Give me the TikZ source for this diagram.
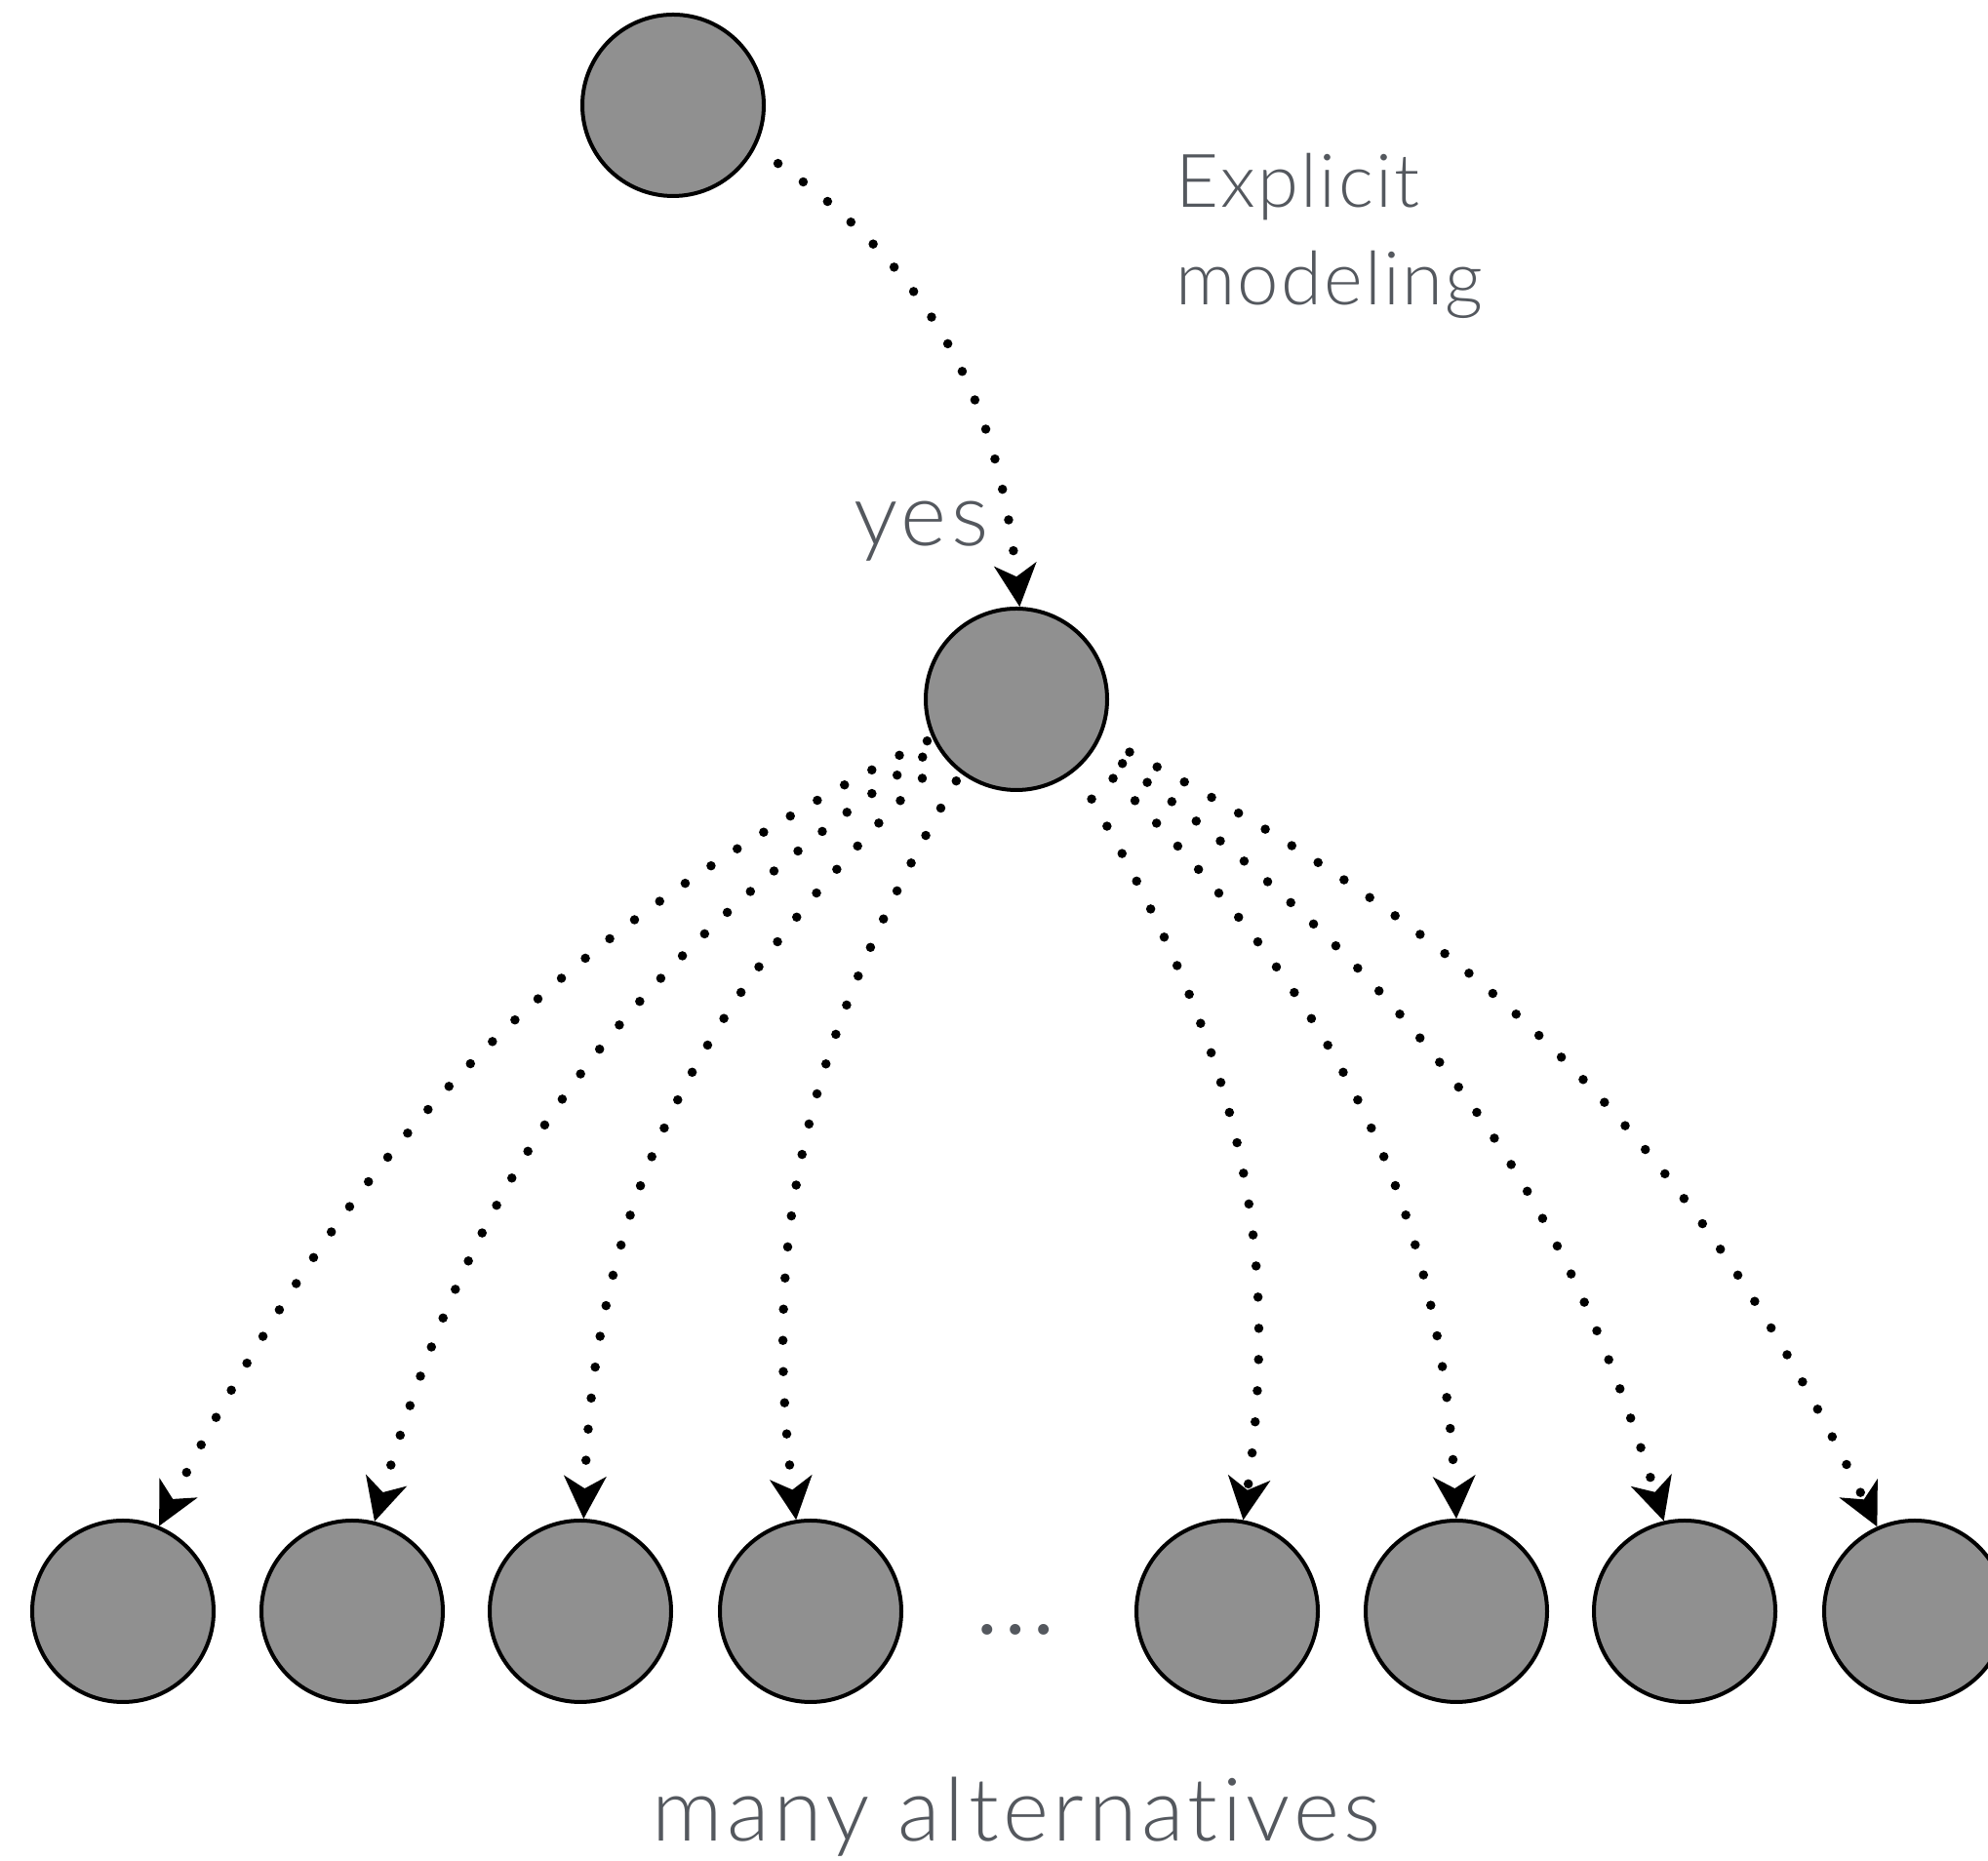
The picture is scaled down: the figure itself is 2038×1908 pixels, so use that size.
\documentclass[tikz,border=0pt]{standalone}
\usepackage{fontspec}
\setmainfont{Lato Light}[Ligatures=NoCommon]
\newfontfamily\spacedfont{Lato Light}[Ligatures=NoCommon,LetterSpace=5]
\newfontfamily\smallspacedfont{Lato Light}[Ligatures=NoCommon,LetterSpace=3]
\usetikzlibrary{arrows.meta}
\definecolor{txt}{RGB}{84,88,94}
\definecolor{ballfill}{RGB}{144,144,144}
\begin{document}
\begin{tikzpicture}[x=1pt,y=1pt,
  ball/.style={circle,draw=black,line width=4pt,fill=ballfill,minimum size=186pt,inner sep=0pt},
  dotarrow/.style={line width=9.5pt,line cap=round,dash pattern=on 0pt off 32pt,
    -{Stealth[length=44pt,width=44pt,inset=13pt,line width=0pt]}},
  lbl/.style={text=txt,inner sep=0pt},
  big/.style={font=\spacedfont\fontsize{90}{100}\selectfont},
  small/.style={font=\smallspacedfont\fontsize{76}{90}\selectfont}
]
\useasboundingbox (0,0) rectangle (2038,1908);
% nodes
\node[ball] (top) at (690,1800) {};
\node[ball] (mid) at (1042,1191) {};
\node[ball] (b1) at (126,256) {};
\node[ball] (b2) at (361,256) {};
\node[ball] (b3) at (595,256) {};
\node[ball] (b4) at (831,256) {};
\node[ball] (b5) at (1258,256) {};
\node[ball] (b6) at (1493,256) {};
\node[ball] (b7) at (1727,256) {};
\node[ball] (b8) at (1963,256) {};
% labels
\node[lbl,small,anchor=base west] (expl1) at (1205,1695) {Explicit};
\node[lbl,small,anchor=base west] (expl2) at (1205,1595) {modeling};
\node[lbl,big,anchor=base west] (yes) at (875,1348) {yes};
\node[lbl,big,anchor=base] (many) at (1042,20) {many alternatives};
\node[lbl,anchor=base,font=\fontsize{118}{120}\selectfont] (dots) at (1041,232) {…};
% connectors
\draw[dotarrow] ([shift={(-29:123)}]top.center) to[out=-35,in=96] (mid.88);
\draw[dotarrow] ([shift={(205:101)}]mid.center) to[out=207,in=63] (b1.67);
\draw[dotarrow] ([shift={(211.6:113)}]mid.center) to[out=215,in=74] (b2.76);
\draw[dotarrow] ([shift={(220:126)}]mid.center) to[out=225,in=88] (b3.88);
\draw[dotarrow] ([shift={(233.6:104)}]mid.center) to[out=240,in=97] (b4.99);
\draw[dotarrow] ([shift={(307:128)}]mid.center) to[out=300,in=82] (b5.80);
\draw[dotarrow] ([shift={(320.7:128)}]mid.center) to[out=315,in=93] (b6.90);
\draw[dotarrow] ([shift={(328.8:127)}]mid.center) to[out=323,in=107] (b7.103);
\draw[dotarrow] ([shift={(335:128)}]mid.center) to[out=332,in=116] (b8.114);
\end{tikzpicture}
\end{document}
